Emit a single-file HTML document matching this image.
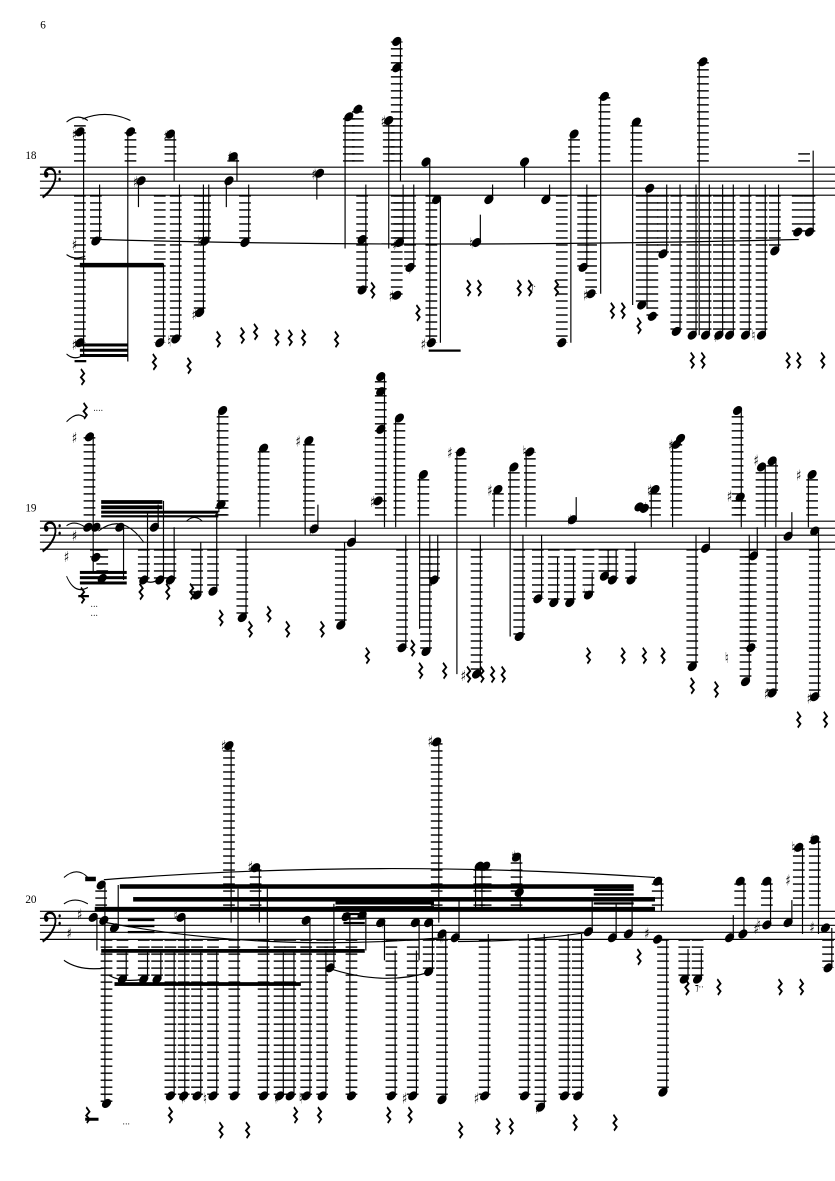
<!DOCTYPE html>
<html><head><meta charset="utf-8"><style>
html,body{margin:0;padding:0;background:#fff;}
svg{display:block;}
.s line{stroke:#000;stroke-width:2.2;}
ellipse{transform-box:fill-box;transform-origin:center;transform:rotate(-20deg);}
</style></head><body>
<svg width="835" height="1181" viewBox="0 0 1568 1568" preserveAspectRatio="none" xmlns="http://www.w3.org/2000/svg">
<defs>
<pattern id="L1" patternUnits="userSpaceOnUse" width="22" height="9.3" patternTransform="translate(0,222)"><rect width="22" height="1.9"/></pattern>
<pattern id="L2" patternUnits="userSpaceOnUse" width="22" height="9.3" patternTransform="translate(0,692)"><rect width="22" height="1.9"/></pattern>
<pattern id="L3" patternUnits="userSpaceOnUse" width="22" height="9.3" patternTransform="translate(0,1210)"><rect width="22" height="1.9"/></pattern>
<path id="r" d="M-3,-10 l6,6 l-6,5 l6,5 l-5,5" fill="none" stroke="#000" stroke-width="3"/>
<g id="clef"><path d="M4,6 C4,-4 22,-6 24,6 C26,18 12,30 0,36" fill="none" stroke="#000" stroke-width="3.5"/><circle cx="7" cy="6" r="4"/><circle cx="32" cy="2" r="2.2"/><circle cx="32" cy="12" r="2.2"/></g>
</defs>
<rect width="1568" height="1568" fill="#fff"/>
<g font-family="Liberation Serif, serif" font-size="15" transform="scale(1.4,1)">
<text x="54" y="38">6</text><text x="34" y="211">18</text><text x="34" y="679">19</text><text x="34" y="1199">20</text>
</g>
<g stroke="#000" stroke-width="1.5">
<line x1="75" y1="222" x2="1568" y2="222"/><line x1="75" y1="231.3" x2="1568" y2="231.3"/><line x1="75" y1="240.6" x2="1568" y2="240.6"/><line x1="75" y1="249.9" x2="1568" y2="249.9"/><line x1="75" y1="259.2" x2="1568" y2="259.2"/>
<line x1="75" y1="692" x2="1568" y2="692"/><line x1="75" y1="701.3" x2="1568" y2="701.3"/><line x1="75" y1="710.6" x2="1568" y2="710.6"/><line x1="75" y1="719.9" x2="1568" y2="719.9"/><line x1="75" y1="729.2" x2="1568" y2="729.2"/>
<line x1="75" y1="1210" x2="1568" y2="1210"/><line x1="75" y1="1219.3" x2="1568" y2="1219.3"/><line x1="75" y1="1228.6" x2="1568" y2="1228.6"/><line x1="75" y1="1237.9" x2="1568" y2="1237.9"/><line x1="75" y1="1247.2" x2="1568" y2="1247.2"/>
</g>
<use href="#clef" x="80" y="226"/><use href="#clef" x="80" y="696"/><use href="#clef" x="80" y="1214"/>

<!-- SYSTEM 1 -->
<g fill="url(#L1)">
<rect x="139" y="160" width="22" height="62"/><rect x="234" y="175" width="22" height="47"/><rect x="309" y="178" width="22" height="44"/><rect x="427" y="208" width="22" height="14"/><rect x="644" y="155" width="22" height="67"/><rect x="661" y="145" width="22" height="77"/><rect x="719" y="160" width="22" height="62"/><rect x="734" y="55" width="22" height="167"/><rect x="789" y="215" width="22" height="7"/><rect x="974" y="215" width="22" height="7"/><rect x="1067" y="178" width="22" height="44"/><rect x="1124" y="128" width="22" height="94"/><rect x="1184" y="162" width="22" height="60"/><rect x="1309" y="82" width="22" height="140"/><rect x="1499" y="200" width="22" height="22"/>
<rect x="169" y="259" width="22" height="61"/><rect x="139" y="259" width="22" height="196"/><rect x="289" y="259" width="22" height="196"/><rect x="319" y="259" width="22" height="191"/><rect x="364" y="259" width="22" height="156"/><rect x="374" y="259" width="22" height="61"/><rect x="449" y="259" width="22" height="63"/><rect x="669" y="259" width="22" height="126"/><rect x="739" y="259" width="22" height="63"/><rect x="759" y="259" width="22" height="96"/><rect x="734" y="259" width="22" height="133"/><rect x="799" y="259" width="22" height="196"/><rect x="1044" y="259" width="22" height="196"/><rect x="1084" y="259" width="22" height="96"/><rect x="1099" y="259" width="22" height="131"/><rect x="1194" y="259" width="22" height="146"/><rect x="1214" y="259" width="22" height="161"/><rect x="1234" y="259" width="22" height="78"/><rect x="1259" y="259" width="22" height="181"/><rect x="1289" y="259" width="22" height="186"/><rect x="1314" y="259" width="22" height="186"/><rect x="1339" y="259" width="22" height="186"/><rect x="1359" y="259" width="22" height="186"/><rect x="1389" y="259" width="22" height="186"/><rect x="1419" y="259" width="22" height="186"/><rect x="1444" y="259" width="22" height="74"/><rect x="1487" y="259" width="22" height="49"/><rect x="1509" y="259" width="22" height="49"/>
</g>
<g>
<ellipse cx="150" cy="175" rx="9" ry="5.5"/><ellipse cx="245" cy="175" rx="9" ry="5.5"/><ellipse cx="320" cy="178" rx="9" ry="5.5"/><ellipse cx="438" cy="208" rx="9" ry="5.5"/><ellipse cx="655" cy="155" rx="9" ry="5.5"/><ellipse cx="672" cy="145" rx="9" ry="5.5"/><ellipse cx="730" cy="160" rx="9" ry="5.5"/><ellipse cx="745" cy="55" rx="9" ry="5.5"/><ellipse cx="745" cy="90" rx="9" ry="5.5"/><ellipse cx="800" cy="215" rx="9" ry="5.5"/><ellipse cx="985" cy="215" rx="9" ry="5.5"/><ellipse cx="1078" cy="178" rx="9" ry="5.5"/><ellipse cx="1135" cy="128" rx="9" ry="5.5"/><ellipse cx="1195" cy="162" rx="9" ry="5.5"/><ellipse cx="1320" cy="82" rx="9" ry="5.5"/>
<ellipse cx="265" cy="240" rx="9" ry="5.5"/><ellipse cx="430" cy="240" rx="9" ry="5.5"/><ellipse cx="600" cy="230" rx="9" ry="5.5"/><ellipse cx="1220" cy="250" rx="9" ry="5.5"/>
<ellipse cx="180" cy="320" rx="9" ry="5.5"/><ellipse cx="150" cy="455" rx="9" ry="5.5"/><ellipse cx="300" cy="455" rx="9" ry="5.5"/><ellipse cx="330" cy="450" rx="9" ry="5.5"/><ellipse cx="375" cy="415" rx="9" ry="5.5"/><ellipse cx="385" cy="320" rx="9" ry="5.5"/><ellipse cx="460" cy="322" rx="9" ry="5.5"/><ellipse cx="680" cy="318" rx="9" ry="5.5"/><ellipse cx="680" cy="385" rx="9" ry="5.5"/><ellipse cx="750" cy="322" rx="9" ry="5.5"/><ellipse cx="770" cy="355" rx="9" ry="5.5"/><ellipse cx="745" cy="392" rx="9" ry="5.5"/><ellipse cx="810" cy="455" rx="9" ry="5.5"/><ellipse cx="820" cy="265" rx="9" ry="5.5"/><ellipse cx="918" cy="265" rx="9" ry="5.5"/><ellipse cx="1025" cy="265" rx="9" ry="5.5"/><ellipse cx="895" cy="322" rx="9" ry="5.5"/><ellipse cx="1055" cy="455" rx="9" ry="5.5"/><ellipse cx="1095" cy="355" rx="9" ry="5.5"/><ellipse cx="1110" cy="390" rx="9" ry="5.5"/><ellipse cx="1205" cy="405" rx="9" ry="5.5"/><ellipse cx="1225" cy="420" rx="9" ry="5.5"/><ellipse cx="1245" cy="337" rx="9" ry="5.5"/><ellipse cx="1270" cy="440" rx="9" ry="5.5"/><ellipse cx="1300" cy="445" rx="9" ry="5.5"/><ellipse cx="1325" cy="445" rx="9" ry="5.5"/><ellipse cx="1350" cy="445" rx="9" ry="5.5"/><ellipse cx="1370" cy="445" rx="9" ry="5.5"/><ellipse cx="1400" cy="445" rx="9" ry="5.5"/><ellipse cx="1430" cy="445" rx="9" ry="5.5"/><ellipse cx="1455" cy="333" rx="9" ry="5.5"/><ellipse cx="1498" cy="308" rx="9" ry="5.5"/><ellipse cx="1520" cy="308" rx="9" ry="5.5"/>
</g>
<g class="s">
<line x1="157" y1="175" x2="157" y2="470"/><line x1="240" y1="175" x2="240" y2="480"/><line x1="327" y1="178" x2="327" y2="240"/><line x1="445" y1="208" x2="445" y2="240"/><line x1="648" y1="155" x2="648" y2="330"/><line x1="730" y1="160" x2="730" y2="330"/><line x1="752" y1="55" x2="752" y2="240"/><line x1="807" y1="215" x2="807" y2="455"/><line x1="985" y1="215" x2="985" y2="250"/><line x1="1072" y1="178" x2="1072" y2="455"/><line x1="1128" y1="128" x2="1128" y2="390"/><line x1="1188" y1="162" x2="1188" y2="405"/><line x1="1313" y1="82" x2="1313" y2="445"/><line x1="1215" y1="250" x2="1215" y2="410"/>
<line x1="260" y1="240" x2="260" y2="275"/><line x1="425" y1="240" x2="425" y2="275"/><line x1="595" y1="230" x2="595" y2="265"/>
<line x1="187" y1="320" x2="187" y2="245"/><line x1="307" y1="455" x2="307" y2="350"/><line x1="337" y1="450" x2="337" y2="245"/><line x1="382" y1="415" x2="382" y2="245"/><line x1="392" y1="320" x2="392" y2="245"/><line x1="467" y1="322" x2="467" y2="245"/><line x1="687" y1="385" x2="687" y2="245"/><line x1="757" y1="322" x2="757" y2="245"/><line x1="777" y1="355" x2="777" y2="245"/><line x1="827" y1="265" x2="827" y2="455"/><line x1="925" y1="265" x2="925" y2="245"/><line x1="1032" y1="265" x2="1032" y2="245"/><line x1="902" y1="322" x2="902" y2="285"/><line x1="1102" y1="355" x2="1102" y2="245"/><line x1="1252" y1="337" x2="1252" y2="245"/><line x1="1277" y1="440" x2="1277" y2="245"/><line x1="1307" y1="445" x2="1307" y2="245"/><line x1="1332" y1="445" x2="1332" y2="245"/><line x1="1357" y1="445" x2="1357" y2="245"/><line x1="1377" y1="445" x2="1377" y2="245"/><line x1="1407" y1="445" x2="1407" y2="245"/><line x1="1437" y1="445" x2="1437" y2="245"/><line x1="1462" y1="333" x2="1462" y2="245"/><line x1="1527" y1="308" x2="1527" y2="200"/>
</g>
<g>
<rect x="150" y="349" width="157" height="6"/><rect x="150" y="456" width="90" height="4"/><rect x="150" y="463" width="90" height="4"/><rect x="150" y="470" width="90" height="4"/><rect x="140" y="478" width="22" height="3"/><rect x="805" y="464" width="60" height="3"/>
</g>
<g fill="none" stroke="#000" stroke-width="1.6">
<path d="M188,318 Q800,330 1500,318"/><path d="M125,162 Q145,150 165,160"/><path d="M155,158 Q200,145 245,160"/><path d="M125,338 Q140,346 160,340"/><path d="M125,470 Q140,480 160,470"/>
</g>

<!-- SYSTEM 2 -->
<g fill="url(#L2)">
<rect x="157" y="580" width="22" height="112"/><rect x="407" y="545" width="22" height="147"/><rect x="484" y="595" width="22" height="97"/><rect x="569" y="585" width="22" height="107"/><rect x="704" y="500" width="22" height="192"/><rect x="739" y="555" width="22" height="137"/><rect x="784" y="630" width="22" height="62"/><rect x="854" y="600" width="22" height="92"/><rect x="924" y="650" width="22" height="42"/><rect x="954" y="620" width="22" height="72"/><rect x="984" y="600" width="22" height="92"/><rect x="1219" y="650" width="22" height="42"/><rect x="1259" y="585" width="22" height="107"/><rect x="1374" y="545" width="22" height="147"/><rect x="1379" y="660" width="22" height="32"/><rect x="1419" y="620" width="22" height="72"/><rect x="1439" y="612" width="22" height="80"/><rect x="1514" y="630" width="22" height="62"/><rect x="404" y="670" width="22" height="22"/>
<rect x="169" y="729" width="22" height="11"/><rect x="181" y="729" width="22" height="39"/><rect x="259" y="729" width="22" height="41"/><rect x="289" y="729" width="22" height="41"/><rect x="309" y="729" width="22" height="41"/><rect x="359" y="729" width="22" height="61"/><rect x="389" y="729" width="22" height="56"/><rect x="444" y="729" width="22" height="91"/><rect x="629" y="729" width="22" height="101"/><rect x="744" y="729" width="22" height="131"/><rect x="789" y="729" width="22" height="136"/><rect x="804" y="729" width="22" height="41"/><rect x="884" y="729" width="22" height="166"/><rect x="964" y="729" width="22" height="116"/><rect x="999" y="729" width="22" height="66"/><rect x="1029" y="729" width="22" height="71"/><rect x="1059" y="729" width="22" height="71"/><rect x="1094" y="729" width="22" height="61"/><rect x="1124" y="729" width="22" height="36"/><rect x="1139" y="729" width="22" height="41"/><rect x="1174" y="729" width="22" height="41"/><rect x="1289" y="729" width="22" height="156"/><rect x="1389" y="729" width="22" height="176"/><rect x="1399" y="729" width="22" height="131"/><rect x="1439" y="729" width="22" height="191"/><rect x="1519" y="729" width="22" height="196"/>
</g>
<g>
<ellipse cx="168" cy="580" rx="9" ry="5.5"/><ellipse cx="418" cy="545" rx="9" ry="5.5"/><ellipse cx="495" cy="595" rx="9" ry="5.5"/><ellipse cx="580" cy="585" rx="9" ry="5.5"/><ellipse cx="715" cy="500" rx="9" ry="5.5"/><ellipse cx="715" cy="520" rx="9" ry="5.5"/><ellipse cx="715" cy="570" rx="9" ry="5.5"/><ellipse cx="750" cy="555" rx="9" ry="5.5"/><ellipse cx="795" cy="630" rx="9" ry="5.5"/><ellipse cx="865" cy="600" rx="9" ry="5.5"/><ellipse cx="935" cy="650" rx="9" ry="5.5"/><ellipse cx="965" cy="620" rx="9" ry="5.5"/><ellipse cx="995" cy="600" rx="9" ry="5.5"/><ellipse cx="1230" cy="650" rx="9" ry="5.5"/><ellipse cx="1270" cy="590" rx="9" ry="5.5"/><ellipse cx="1278" cy="582" rx="9" ry="5.5"/><ellipse cx="1385" cy="545" rx="9" ry="5.5"/><ellipse cx="1390" cy="660" rx="9" ry="5.5"/><ellipse cx="1430" cy="620" rx="9" ry="5.5"/><ellipse cx="1450" cy="612" rx="9" ry="5.5"/><ellipse cx="1525" cy="630" rx="9" ry="5.5"/>
<ellipse cx="165" cy="700" rx="9" ry="5.5"/><ellipse cx="180" cy="700" rx="9" ry="5.5"/><ellipse cx="225" cy="700" rx="9" ry="5.5"/><ellipse cx="290" cy="700" rx="9" ry="5.5"/><ellipse cx="415" cy="670" rx="9" ry="5.5"/><ellipse cx="590" cy="702" rx="9" ry="5.5"/><ellipse cx="710" cy="665" rx="9" ry="5.5"/><ellipse cx="1075" cy="690" rx="9" ry="5.5"/><ellipse cx="1200" cy="673" rx="9" ry="5.5"/><ellipse cx="1210" cy="675" rx="9" ry="5.5"/><ellipse cx="1480" cy="712" rx="9" ry="5.5"/><ellipse cx="1530" cy="705" rx="9" ry="5.5"/><ellipse cx="660" cy="720" rx="9" ry="5.5"/><ellipse cx="1325" cy="728" rx="9" ry="5.5"/><ellipse cx="1415" cy="738" rx="9" ry="5.5"/>
<ellipse cx="180" cy="740" rx="9" ry="5.5"/><ellipse cx="192" cy="768" rx="9" ry="5.5"/><ellipse cx="270" cy="770" rx="9" ry="5.5"/><ellipse cx="300" cy="770" rx="9" ry="5.5"/><ellipse cx="320" cy="770" rx="9" ry="5.5"/><ellipse cx="370" cy="790" rx="9" ry="5.5"/><ellipse cx="400" cy="785" rx="9" ry="5.5"/><ellipse cx="455" cy="820" rx="9" ry="5.5"/><ellipse cx="640" cy="830" rx="9" ry="5.5"/><ellipse cx="755" cy="860" rx="9" ry="5.5"/><ellipse cx="800" cy="865" rx="9" ry="5.5"/><ellipse cx="815" cy="770" rx="9" ry="5.5"/><ellipse cx="895" cy="895" rx="9" ry="5.5"/><ellipse cx="975" cy="845" rx="9" ry="5.5"/><ellipse cx="1010" cy="795" rx="9" ry="5.5"/><ellipse cx="1040" cy="800" rx="9" ry="5.5"/><ellipse cx="1070" cy="800" rx="9" ry="5.5"/><ellipse cx="1105" cy="790" rx="9" ry="5.5"/><ellipse cx="1135" cy="765" rx="9" ry="5.5"/><ellipse cx="1150" cy="770" rx="9" ry="5.5"/><ellipse cx="1185" cy="770" rx="9" ry="5.5"/><ellipse cx="1300" cy="885" rx="9" ry="5.5"/><ellipse cx="1400" cy="905" rx="9" ry="5.5"/><ellipse cx="1410" cy="860" rx="9" ry="5.5"/><ellipse cx="1450" cy="920" rx="9" ry="5.5"/><ellipse cx="1530" cy="925" rx="9" ry="5.5"/>
</g>
<g class="s">
<line x1="175" y1="580" x2="175" y2="760"/><line x1="411" y1="545" x2="411" y2="680"/><line x1="488" y1="595" x2="488" y2="700"/><line x1="573" y1="585" x2="573" y2="710"/><line x1="722" y1="500" x2="722" y2="700"/><line x1="743" y1="555" x2="743" y2="700"/><line x1="788" y1="630" x2="788" y2="835"/><line x1="858" y1="600" x2="858" y2="895"/><line x1="928" y1="650" x2="928" y2="700"/><line x1="958" y1="620" x2="958" y2="845"/><line x1="988" y1="600" x2="988" y2="700"/><line x1="1223" y1="650" x2="1223" y2="700"/><line x1="1263" y1="590" x2="1263" y2="700"/><line x1="1392" y1="545" x2="1392" y2="700"/><line x1="1437" y1="620" x2="1437" y2="700"/><line x1="1457" y1="612" x2="1457" y2="700"/><line x1="1518" y1="630" x2="1518" y2="700"/>
<line x1="232" y1="700" x2="232" y2="770"/><line x1="297" y1="700" x2="297" y2="670"/><line x1="597" y1="702" x2="597" y2="670"/><line x1="667" y1="720" x2="667" y2="690"/><line x1="1082" y1="690" x2="1082" y2="660"/><line x1="1487" y1="712" x2="1487" y2="680"/><line x1="1537" y1="705" x2="1537" y2="925"/><line x1="1332" y1="728" x2="1332" y2="700"/><line x1="1422" y1="738" x2="1422" y2="700"/>
<line x1="277" y1="770" x2="277" y2="680"/><line x1="307" y1="770" x2="307" y2="665"/><line x1="327" y1="770" x2="327" y2="700"/><line x1="377" y1="790" x2="377" y2="720"/><line x1="407" y1="785" x2="407" y2="680"/><line x1="462" y1="820" x2="462" y2="710"/><line x1="647" y1="830" x2="647" y2="720"/><line x1="762" y1="860" x2="762" y2="710"/><line x1="807" y1="865" x2="807" y2="710"/><line x1="822" y1="770" x2="822" y2="710"/><line x1="902" y1="895" x2="902" y2="710"/><line x1="982" y1="845" x2="982" y2="710"/><line x1="1017" y1="795" x2="1017" y2="710"/><line x1="1047" y1="800" x2="1047" y2="740"/><line x1="1077" y1="800" x2="1077" y2="740"/><line x1="1112" y1="790" x2="1112" y2="760"/><line x1="1142" y1="765" x2="1142" y2="730"/><line x1="1157" y1="770" x2="1157" y2="730"/><line x1="1192" y1="770" x2="1192" y2="720"/><line x1="1307" y1="885" x2="1307" y2="710"/><line x1="1407" y1="905" x2="1407" y2="710"/><line x1="1457" y1="920" x2="1457" y2="710"/>
</g>
<g>
<rect x="190" y="664" width="115" height="5"/><rect x="190" y="671" width="115" height="5"/><rect x="190" y="678" width="220" height="4"/><rect x="190" y="684" width="220" height="3"/><rect x="150" y="758" width="88" height="4"/><rect x="150" y="765" width="88" height="4"/><rect x="150" y="772" width="88" height="4"/><rect x="147" y="790" width="20" height="3"/>
</g>
<g fill="none" stroke="#000" stroke-width="1.6">
<path d="M125,560 Q145,545 160,555"/><path d="M125,698 Q140,690 160,700"/><path d="M185,705 Q230,680 270,720"/><path d="M125,765 Q140,790 165,780"/><path d="M265,768 Q283,778 300,768"/><path d="M350,692 Q365,682 380,692"/>
</g>

<!-- SYSTEM 3 -->
<g fill="url(#L3)">
<rect x="419" y="990" width="22" height="220"/><rect x="469" y="1152" width="22" height="58"/><rect x="809" y="985" width="22" height="225"/><rect x="889" y="1150" width="22" height="60"/><rect x="901" y="1150" width="22" height="60"/><rect x="959" y="1138" width="22" height="72"/><rect x="1224" y="1170" width="22" height="40"/><rect x="1489" y="1125" width="22" height="85"/><rect x="1519" y="1115" width="22" height="95"/><rect x="1429" y="1170" width="22" height="40"/><rect x="179" y="1175" width="22" height="35"/><rect x="1379" y="1170" width="22" height="40"/>
<rect x="189" y="1247" width="22" height="218"/><rect x="219" y="1247" width="22" height="53"/><rect x="259" y="1247" width="22" height="53"/><rect x="284" y="1247" width="22" height="53"/><rect x="309" y="1247" width="22" height="208"/><rect x="334" y="1247" width="22" height="208"/><rect x="359" y="1247" width="22" height="208"/><rect x="389" y="1247" width="22" height="208"/><rect x="429" y="1247" width="22" height="208"/><rect x="484" y="1247" width="22" height="208"/><rect x="514" y="1247" width="22" height="208"/><rect x="534" y="1247" width="22" height="208"/><rect x="564" y="1247" width="22" height="208"/><rect x="594" y="1247" width="22" height="208"/><rect x="649" y="1247" width="22" height="208"/><rect x="724" y="1247" width="22" height="208"/><rect x="764" y="1247" width="22" height="208"/><rect x="819" y="1247" width="22" height="213"/><rect x="899" y="1247" width="22" height="208"/><rect x="974" y="1247" width="22" height="208"/><rect x="1004" y="1247" width="22" height="223"/><rect x="1049" y="1247" width="22" height="208"/><rect x="1074" y="1247" width="22" height="208"/><rect x="1234" y="1247" width="22" height="203"/><rect x="1274" y="1247" width="22" height="53"/><rect x="1299" y="1247" width="22" height="53"/><rect x="1544" y="1247" width="22" height="38"/><rect x="609" y="1247" width="22" height="38"/><rect x="794" y="1247" width="22" height="43"/>
</g>
<g>
<ellipse cx="430" cy="990" rx="9" ry="5.5"/><ellipse cx="480" cy="1152" rx="9" ry="5.5"/><ellipse cx="820" cy="985" rx="9" ry="5.5"/><ellipse cx="900" cy="1150" rx="9" ry="5.5"/><ellipse cx="912" cy="1150" rx="9" ry="5.5"/><ellipse cx="970" cy="1138" rx="9" ry="5.5"/><ellipse cx="1235" cy="1170" rx="9" ry="5.5"/><ellipse cx="1500" cy="1125" rx="9" ry="5.5"/><ellipse cx="1530" cy="1115" rx="9" ry="5.5"/><ellipse cx="1440" cy="1170" rx="9" ry="5.5"/><ellipse cx="190" cy="1175" rx="9" ry="5.5"/><ellipse cx="1390" cy="1170" rx="9" ry="5.5"/>
<ellipse cx="175" cy="1218" rx="9" ry="5.5"/><ellipse cx="195" cy="1222" rx="9" ry="5.5"/><ellipse cx="215" cy="1232" rx="9" ry="5.5"/><ellipse cx="340" cy="1218" rx="9" ry="5.5"/><ellipse cx="575" cy="1222" rx="9" ry="5.5"/><ellipse cx="650" cy="1217" rx="9" ry="5.5"/><ellipse cx="680" cy="1215" rx="9" ry="5.5"/><ellipse cx="715" cy="1225" rx="9" ry="5.5"/><ellipse cx="780" cy="1225" rx="9" ry="5.5"/><ellipse cx="805" cy="1225" rx="9" ry="5.5"/><ellipse cx="830" cy="1240" rx="9" ry="5.5"/><ellipse cx="855" cy="1245" rx="9" ry="5.5"/><ellipse cx="975" cy="1185" rx="9" ry="5.5"/><ellipse cx="1105" cy="1237" rx="9" ry="5.5"/><ellipse cx="1150" cy="1245" rx="9" ry="5.5"/><ellipse cx="1180" cy="1240" rx="9" ry="5.5"/><ellipse cx="1235" cy="1247" rx="9" ry="5.5"/><ellipse cx="1370" cy="1245" rx="9" ry="5.5"/><ellipse cx="1395" cy="1240" rx="9" ry="5.5"/><ellipse cx="1440" cy="1228" rx="9" ry="5.5"/><ellipse cx="1480" cy="1225" rx="9" ry="5.5"/><ellipse cx="1550" cy="1232" rx="9" ry="5.5"/><ellipse cx="230" cy="1300" rx="9" ry="5.5"/><ellipse cx="270" cy="1300" rx="9" ry="5.5"/><ellipse cx="295" cy="1300" rx="9" ry="5.5"/><ellipse cx="620" cy="1285" rx="9" ry="5.5"/><ellipse cx="805" cy="1290" rx="9" ry="5.5"/><ellipse cx="1285" cy="1300" rx="9" ry="5.5"/><ellipse cx="1310" cy="1300" rx="9" ry="5.5"/><ellipse cx="1555" cy="1285" rx="9" ry="5.5"/>
<ellipse cx="200" cy="1465" rx="9" ry="5.5"/><ellipse cx="320" cy="1455" rx="9" ry="5.5"/><ellipse cx="345" cy="1455" rx="9" ry="5.5"/><ellipse cx="370" cy="1455" rx="9" ry="5.5"/><ellipse cx="400" cy="1455" rx="9" ry="5.5"/><ellipse cx="440" cy="1455" rx="9" ry="5.5"/><ellipse cx="495" cy="1455" rx="9" ry="5.5"/><ellipse cx="525" cy="1455" rx="9" ry="5.5"/><ellipse cx="545" cy="1455" rx="9" ry="5.5"/><ellipse cx="575" cy="1455" rx="9" ry="5.5"/><ellipse cx="605" cy="1455" rx="9" ry="5.5"/><ellipse cx="660" cy="1455" rx="9" ry="5.5"/><ellipse cx="735" cy="1455" rx="9" ry="5.5"/><ellipse cx="775" cy="1455" rx="9" ry="5.5"/><ellipse cx="830" cy="1460" rx="9" ry="5.5"/><ellipse cx="910" cy="1455" rx="9" ry="5.5"/><ellipse cx="985" cy="1455" rx="9" ry="5.5"/><ellipse cx="1015" cy="1470" rx="9" ry="5.5"/><ellipse cx="1060" cy="1455" rx="9" ry="5.5"/><ellipse cx="1085" cy="1455" rx="9" ry="5.5"/><ellipse cx="1245" cy="1450" rx="9" ry="5.5"/>
</g>
<g class="s">
<line x1="434" y1="990" x2="434" y2="1225"/><line x1="487" y1="1152" x2="487" y2="1225"/><line x1="824" y1="985" x2="824" y2="1225"/><line x1="893" y1="1150" x2="893" y2="1210"/><line x1="905" y1="1150" x2="905" y2="1210"/><line x1="977" y1="1138" x2="977" y2="1210"/><line x1="1242" y1="1170" x2="1242" y2="1210"/><line x1="1507" y1="1125" x2="1507" y2="1240"/><line x1="1537" y1="1115" x2="1537" y2="1240"/><line x1="1447" y1="1170" x2="1447" y2="1228"/><line x1="197" y1="1175" x2="197" y2="1465"/><line x1="1397" y1="1170" x2="1397" y2="1240"/>
<line x1="182" y1="1218" x2="182" y2="1262"/><line x1="222" y1="1232" x2="222" y2="1175"/><line x1="347" y1="1218" x2="347" y2="1455"/><line x1="582" y1="1222" x2="582" y2="1455"/><line x1="657" y1="1217" x2="657" y2="1455"/><line x1="687" y1="1215" x2="687" y2="1262"/><line x1="722" y1="1225" x2="722" y2="1275"/><line x1="787" y1="1225" x2="787" y2="1275"/><line x1="812" y1="1225" x2="812" y2="1290"/><line x1="837" y1="1240" x2="837" y2="1460"/><line x1="862" y1="1245" x2="862" y2="1195"/><line x1="1112" y1="1237" x2="1112" y2="1195"/><line x1="1157" y1="1245" x2="1157" y2="1200"/><line x1="1187" y1="1240" x2="1187" y2="1195"/><line x1="1252" y1="1247" x2="1252" y2="1450"/><line x1="1377" y1="1245" x2="1377" y2="1215"/><line x1="1487" y1="1225" x2="1487" y2="1195"/><line x1="1562" y1="1232" x2="1562" y2="1285"/>
<line x1="237" y1="1300" x2="237" y2="1262"/><line x1="277" y1="1300" x2="277" y2="1262"/><line x1="302" y1="1300" x2="302" y2="1262"/><line x1="327" y1="1455" x2="327" y2="1262"/><line x1="377" y1="1455" x2="377" y2="1262"/><line x1="407" y1="1455" x2="407" y2="1262"/><line x1="447" y1="1455" x2="447" y2="1180"/><line x1="502" y1="1455" x2="502" y2="1180"/><line x1="532" y1="1455" x2="532" y2="1262"/><line x1="552" y1="1455" x2="552" y2="1262"/><line x1="612" y1="1455" x2="612" y2="1262"/><line x1="627" y1="1285" x2="627" y2="1200"/><line x1="742" y1="1455" x2="742" y2="1262"/><line x1="782" y1="1455" x2="782" y2="1262"/><line x1="917" y1="1455" x2="917" y2="1240"/><line x1="992" y1="1455" x2="992" y2="1240"/><line x1="1022" y1="1470" x2="1022" y2="1240"/><line x1="1067" y1="1455" x2="1067" y2="1240"/><line x1="1092" y1="1455" x2="1092" y2="1240"/><line x1="1292" y1="1300" x2="1292" y2="1260"/><line x1="1317" y1="1300" x2="1317" y2="1260"/>
</g>
<g>
<rect x="225" y="1174" width="965" height="6"/><rect x="250" y="1191" width="980" height="6"/><rect x="178" y="1204" width="1052" height="6"/><rect x="630" y="1196" width="185" height="5"/><rect x="630" y="1203" width="185" height="5"/><rect x="645" y="1212" width="40" height="3"/><rect x="645" y="1218" width="40" height="3"/><rect x="645" y="1224" width="40" height="3"/><rect x="190" y="1260" width="495" height="5"/><rect x="215" y="1304" width="350" height="5"/><rect x="1115" y="1180" width="75" height="3"/><rect x="1115" y="1186" width="75" height="3"/><rect x="1115" y="1192" width="75" height="3"/><rect x="1115" y="1198" width="75" height="3"/><rect x="240" y="1220" width="50" height="3"/><rect x="240" y="1228" width="50" height="3"/><rect x="240" y="1236" width="50" height="3"/><rect x="160" y="1484" width="25" height="4"/><rect x="160" y="1164" width="20" height="6"/>
</g>
<g fill="none" stroke="#000" stroke-width="1.6">
<path d="M195,1168 Q700,1140 1230,1165"/><path d="M120,1165 Q145,1150 165,1165"/><path d="M120,1200 Q140,1190 165,1200"/><path d="M120,1275 Q150,1290 200,1285"/><path d="M200,1225 Q500,1265 830,1245"/><path d="M615,1285 Q720,1310 810,1290"/><path d="M860,1250 Q1000,1250 1110,1237"/><path d="M205,1295 Q230,1305 270,1300"/>
</g>

<!-- sharps -->
<g font-family="DejaVu Sans, sans-serif" font-size="20" text-anchor="middle">
<text x="140" y="185">♯</text><text x="312" y="187">♯</text><text x="432" y="215">♯</text><text x="255" y="248">♯</text><text x="590" y="238">♯</text><text x="720" y="168">♯</text><text x="140" y="332">♯</text><text x="140" y="465">♯</text><text x="365" y="425">♯</text><text x="742" y="332">♯</text><text x="770" y="364">♯</text><text x="735" y="400">♯</text><text x="795" y="464">♯</text><text x="1100" y="399">♯</text><text x="1345" y="454">♯</text><text x="885" y="330">♮</text><text x="375" y="327">♮</text><text x="318" y="460">♮</text><text x="1415" y="452">♮</text>
<text x="140" y="588">♯</text><text x="560" y="593">♯</text><text x="845" y="608">♯</text><text x="920" y="658">♯</text><text x="1220" y="658">♯</text><text x="1260" y="598">♯</text><text x="1420" y="618">♯</text><text x="1500" y="638">♯</text><text x="700" y="673">♯</text><text x="1070" y="698">♯</text><text x="1210" y="681">♯</text><text x="1370" y="666">♯</text><text x="140" y="718">♯</text><text x="125" y="746">♯</text><text x="585" y="711">♯</text><text x="320" y="778">♯</text><text x="870" y="904">♯</text><text x="1440" y="928">♯</text><text x="1520" y="934">♯</text><text x="985" y="606">♮</text><text x="1365" y="880">♮</text><text x="1100" y="796">♮</text>
<text x="420" y="997">♯</text><text x="470" y="1158">♯</text><text x="808" y="991">♯</text><text x="965" y="1144">♯</text><text x="1525" y="1121">♯</text><text x="150" y="1221">♯</text><text x="130" y="1246">♯</text><text x="720" y="1233">♯</text><text x="830" y="1253">♯</text><text x="1215" y="1246">♯</text><text x="1525" y="1238">♯</text><text x="1480" y="1176">♯</text><text x="345" y="1465">♯</text><text x="520" y="1465">♯</text><text x="760" y="1465">♯</text><text x="895" y="1465">♯</text><text x="1010" y="1479">♯</text><text x="1420" y="1240">♯</text><text x="330" y="1222">♮</text><text x="1490" y="1132">♮</text><text x="1425" y="1234">♮</text><text x="565" y="1465">♮</text><text x="385" y="1465">♮</text>
</g>

<!-- rests -->
<g>
<use href="#r" x="290" y="480"/><use href="#r" x="355" y="485"/><use href="#r" x="410" y="450"/><use href="#r" x="455" y="445"/><use href="#r" x="480" y="440"/><use href="#r" x="520" y="448"/><use href="#r" x="545" y="448"/><use href="#r" x="570" y="448"/><use href="#r" x="632" y="450"/><use href="#r" x="700" y="385"/><use href="#r" x="785" y="415"/><use href="#r" x="880" y="382"/><use href="#r" x="900" y="382"/><use href="#r" x="975" y="382"/><use href="#r" x="995" y="382"/><use href="#r" x="1045" y="382"/><use href="#r" x="1150" y="412"/><use href="#r" x="1170" y="412"/><use href="#r" x="1200" y="432"/><use href="#r" x="1300" y="478"/><use href="#r" x="1320" y="478"/><use href="#r" x="1480" y="478"/><use href="#r" x="1500" y="478"/><use href="#r" x="1545" y="478"/><use href="#r" x="155" y="500"/>
<use href="#r" x="160" y="545"/><use href="#r" x="265" y="785"/><use href="#r" x="315" y="785"/><use href="#r" x="360" y="785"/><use href="#r" x="415" y="820"/><use href="#r" x="470" y="835"/><use href="#r" x="505" y="815"/><use href="#r" x="540" y="835"/><use href="#r" x="605" y="835"/><use href="#r" x="690" y="870"/><use href="#r" x="775" y="860"/><use href="#r" x="790" y="890"/><use href="#r" x="835" y="890"/><use href="#r" x="880" y="895"/><use href="#r" x="905" y="895"/><use href="#r" x="925" y="895"/><use href="#r" x="945" y="895"/><use href="#r" x="1105" y="870"/><use href="#r" x="1170" y="870"/><use href="#r" x="1210" y="870"/><use href="#r" x="1245" y="870"/><use href="#r" x="1300" y="910"/><use href="#r" x="1345" y="915"/><use href="#r" x="1500" y="955"/><use href="#r" x="1550" y="955"/><use href="#r" x="155" y="790"/>
<use href="#r" x="165" y="1480"/><use href="#r" x="320" y="1480"/><use href="#r" x="415" y="1500"/><use href="#r" x="465" y="1500"/><use href="#r" x="555" y="1480"/><use href="#r" x="600" y="1480"/><use href="#r" x="730" y="1480"/><use href="#r" x="770" y="1480"/><use href="#r" x="865" y="1500"/><use href="#r" x="935" y="1495"/><use href="#r" x="960" y="1495"/><use href="#r" x="1080" y="1490"/><use href="#r" x="1155" y="1490"/><use href="#r" x="1200" y="1270"/><use href="#r" x="1290" y="1310"/><use href="#r" x="1350" y="1310"/><use href="#r" x="1465" y="1310"/><use href="#r" x="1505" y="1310"/>
</g>
<g font-family="Liberation Serif, serif" font-size="14">
<text x="175" y="550">····</text><text x="170" y="810">···</text><text x="170" y="822">···</text><text x="230" y="1497">···</text><text x="1305" y="1315">⁊··</text><text x="995" y="385">⁊·</text>
</g>
</svg>
</body></html>
